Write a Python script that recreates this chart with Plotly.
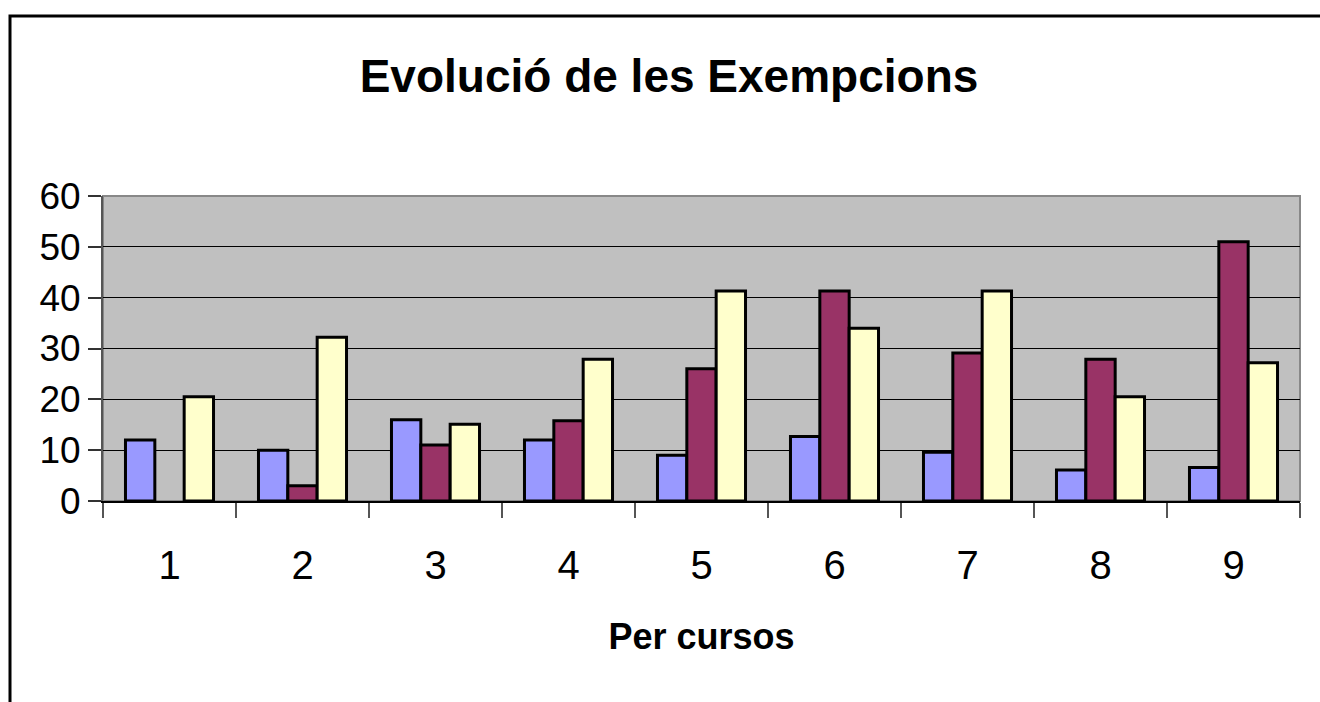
import plotly.graph_objects as go

categories = ["1", "2", "3", "4", "5", "6", "7", "8", "9"]
serie_a = [12, 10, 16, 12, 9, 12.7, 9.6, 6.1, 6.6]
serie_b = [None, 3, 11, 15.8, 26, 41.3, 29.1, 27.9, 51]
serie_c = [20.5, 32.2, 15.1, 27.9, 41.3, 34, 41.3, 20.5, 27.2]
y_ticks = [0, 10, 20, 30, 40, 50, 60]

colors = ["#9999FF", "#993366", "#FFFFCC"]
names = ["Sèrie 1", "Sèrie 2", "Sèrie 3"]
FONT = "Arial, Liberation Sans, sans-serif"

fig = go.Figure()
for vals, col, nm in zip([serie_a, serie_b, serie_c], colors, names):
    fig.add_trace(go.Bar(x=categories, y=vals, name=nm,
                         marker=dict(color=col, line=dict(color="black", width=3))))

W, H = 1320, 702
L, R, T, B = 103, 20, 196, 201
pw = W - L - R
ph = H - T - B

fig.update_layout(
    width=W, height=H,
    margin=dict(l=L, r=R, t=T, b=B, pad=0),
    paper_bgcolor="white",
    plot_bgcolor="#C0C0C0",
    barmode="group",
    bargap=0.338,
    bargroupgap=0,
    showlegend=False,
    title=dict(text="<b>Evolució de les Exempcions</b>", x=669 / W, xanchor="center",
               y=1 - 76 / H, yanchor="middle",
               font=dict(family=FONT, size=46, color="black")),
    font=dict(family=FONT, color="black"),
)

fig.update_xaxes(
    type="category",
    tickson="boundaries",
    ticks="outside", ticklen=15, tickcolor="#555555", tickwidth=1.5,
    ticklabelstandoff=28,
    tickfont=dict(family=FONT, size=40, color="black"),
    showline=True, linecolor="black", linewidth=1.5,
    showgrid=False,
    title=dict(text="<b>Per cursos</b>", font=dict(family=FONT, size=36, color="black"), standoff=38),
)
fig.update_yaxes(
    range=[0, 60],
    tickvals=y_ticks,
    ticks="outside", ticklen=13, tickcolor="#333333", tickwidth=1.5,
    tickfont=dict(family=FONT, size=37, color="black"),
    showline=True, linecolor="#555555", linewidth=2,
    showgrid=True, gridcolor="black", gridwidth=1,
    zeroline=False,
)

# plot-area border (top/right gray)
fig.add_shape(type="rect", xref="paper", yref="paper", x0=0, x1=1, y0=0, y1=1,
              line=dict(color="#888888", width=2), layer="below")
# outer chart frame
fig.add_shape(type="rect", xref="paper", yref="paper",
              x0=(10 - L) / pw, x1=(W + 40 - L) / pw,
              y0=(H - B - (H + 40)) / ph, y1=(H - B - 16) / ph,
              line=dict(color="black", width=3), fillcolor="rgba(0,0,0,0)")

fig.write_html("out.html", config={"displayModeBar": False},
               post_script="document.body.style.margin='0';document.body.style.overflow='hidden';")
